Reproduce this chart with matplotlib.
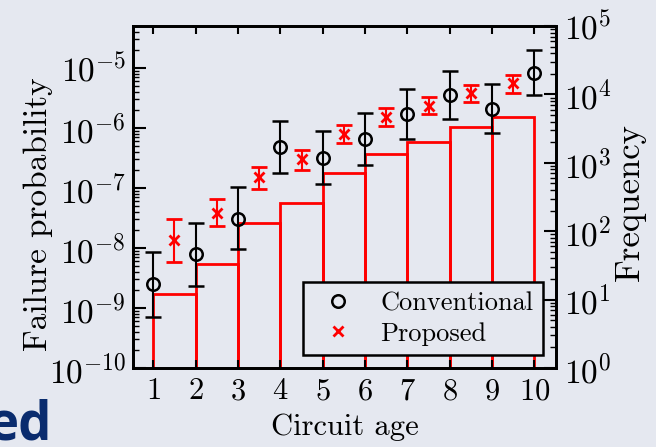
import numpy as np
import matplotlib
matplotlib.use('Agg')
from matplotlib import pyplot as plt
from matplotlib.ticker import LogLocator

plt.rcParams['font.family'] = 'cmr10'
plt.rcParams['mathtext.fontset'] = 'cm'
plt.rcParams['axes.formatter.use_mathtext'] = True
plt.rcParams['axes.unicode_minus'] = False

BG = '#e5e8f0'
RED = '#ff0000'

# circuit age bins and counts (right axis)
bin_edges = [1, 2, 3, 4, 5, 6, 7, 8, 9, 10]
frequency = [12, 33, 130, 255, 700, 1350, 2040, 3300, 4700]

# conventional estimate
conv_age = [1, 2, 3, 4, 5, 6, 7, 8, 9, 10]
conv_p = [2.5e-9, 7.8e-9, 3.1e-8, 4.8e-7, 3.2e-7, 6.5e-7, 1.7e-6, 3.55e-6, 2.1e-6, 8.4e-6]
conv_lo = [7.2e-10, 2.35e-9, 9.6e-9, 1.76e-7, 1.15e-7, 2.4e-7, 6.5e-7, 1.4e-6, 8.1e-7, 3.55e-6]
conv_hi = [8.7e-9, 2.6e-8, 1.05e-7, 1.3e-6, 9.0e-7, 1.8e-6, 4.4e-6, 8.9e-6, 5.4e-6, 2.0e-5]

# proposed estimate
prop_age = [1.5, 2.5, 3.5, 4.5, 5.5, 6.5, 7.5, 8.5, 9.5]
prop_p = [1.36e-8, 3.8e-8, 1.5e-7, 3.0e-7, 7.9e-7, 1.54e-6, 2.33e-6, 3.8e-6, 5.6e-6]
prop_lo = [5.9e-9, 2.3e-8, 9.7e-8, 2.0e-7, 5.7e-7, 1.08e-6, 1.7e-6, 2.74e-6, 3.9e-6]
prop_hi = [3.1e-8, 6.6e-8, 2.26e-7, 4.3e-7, 1.12e-6, 2.18e-6, 3.3e-6, 5.2e-6, 7.6e-6]

fig = plt.figure(figsize=(6.56, 4.47), dpi=100, facecolor=BG)
ax = fig.add_axes([133/656, 1 - 368/447, (556-133)/656, (368-26)/447])
ax2 = ax.twinx()

# histogram on the frequency axis, behind the markers
ax2.bar(bin_edges[:-1], frequency, width=1, align='edge', fill=False,
		edgecolor=RED, linewidth=2)
ax2.set_yscale('log')
ax2.set_ylim(1, 1e5)
ax2.set_ylabel('Frequency', fontsize=25)
ax2.yaxis.set_label_coords(1.137, 0.485)

ax.set_zorder(ax2.get_zorder() + 1)
ax.patch.set_visible(False)
ax2.patch.set_facecolor(BG)

conv_p = np.array(conv_p)
prop_p = np.array(prop_p)
conv_err = [conv_p - np.array(conv_lo), np.array(conv_hi) - conv_p]
prop_err = [prop_p - np.array(prop_lo), np.array(prop_hi) - prop_p]

ax.errorbar(conv_age, conv_p, yerr=conv_err, fmt='o', color='k', mfc='none',
			ms=9, mew=1.8, elinewidth=1.5, capsize=6, capthick=1.5, label='Conventional')
ax.errorbar(prop_age, prop_p, yerr=prop_err, fmt='x', color=RED,
			ms=7, mew=2, elinewidth=1.5, capsize=6, capthick=1.5, label='Proposed')

ax.set_yscale('log')
ax.set_ylim(1e-10, 10**-4.3)
ax.set_xlim(0.52, 10.51)
ax.set_xticks(conv_age)
ax.set_xlabel('Circuit age', fontsize=22, labelpad=6)
ax.set_ylabel('Failure probability', fontsize=24)
ax.yaxis.set_label_coords(-0.189, 0.45)

for a in (ax, ax2):
	a.yaxis.set_major_locator(LogLocator(base=10, numticks=20))
	a.yaxis.set_minor_locator(LogLocator(base=10, subs=np.arange(2, 10), numticks=20))

ax.tick_params(axis='x', which='both', direction='in', top=True, length=6, width=1.5,
			   labelsize=22, pad=7)
ax.tick_params(axis='y', which='major', direction='in', length=9, width=1.5, labelsize=24, pad=5)
ax.tick_params(axis='y', which='minor', direction='in', length=4.5, width=1)
ax2.tick_params(axis='y', which='major', direction='in', length=9, width=1.5, labelsize=24, pad=6)
ax2.tick_params(axis='y', which='minor', direction='in', length=4.5, width=1)

for a in (ax, ax2):
	for s in a.spines.values():
		s.set_linewidth(2)

handles, labels = ax.get_legend_handles_labels()
handles = [h[0] for h in handles]
leg = ax.legend(handles, labels, loc='lower right', fontsize=19, frameon=True,
				fancybox=False, framealpha=1, facecolor=BG, edgecolor='k',
				borderaxespad=0.5, handletextpad=0.6, borderpad=0.35, labelspacing=0.25)
leg.get_frame().set_linewidth(1.8)

fig.text(52/656, 1 - 439/447, 'ed', ha='right', va='baseline', fontsize=38,
		 fontweight='bold', family='Open Sans', color='#0a2c6e')

fig.savefig('out.png', dpi=100, facecolor=BG)
